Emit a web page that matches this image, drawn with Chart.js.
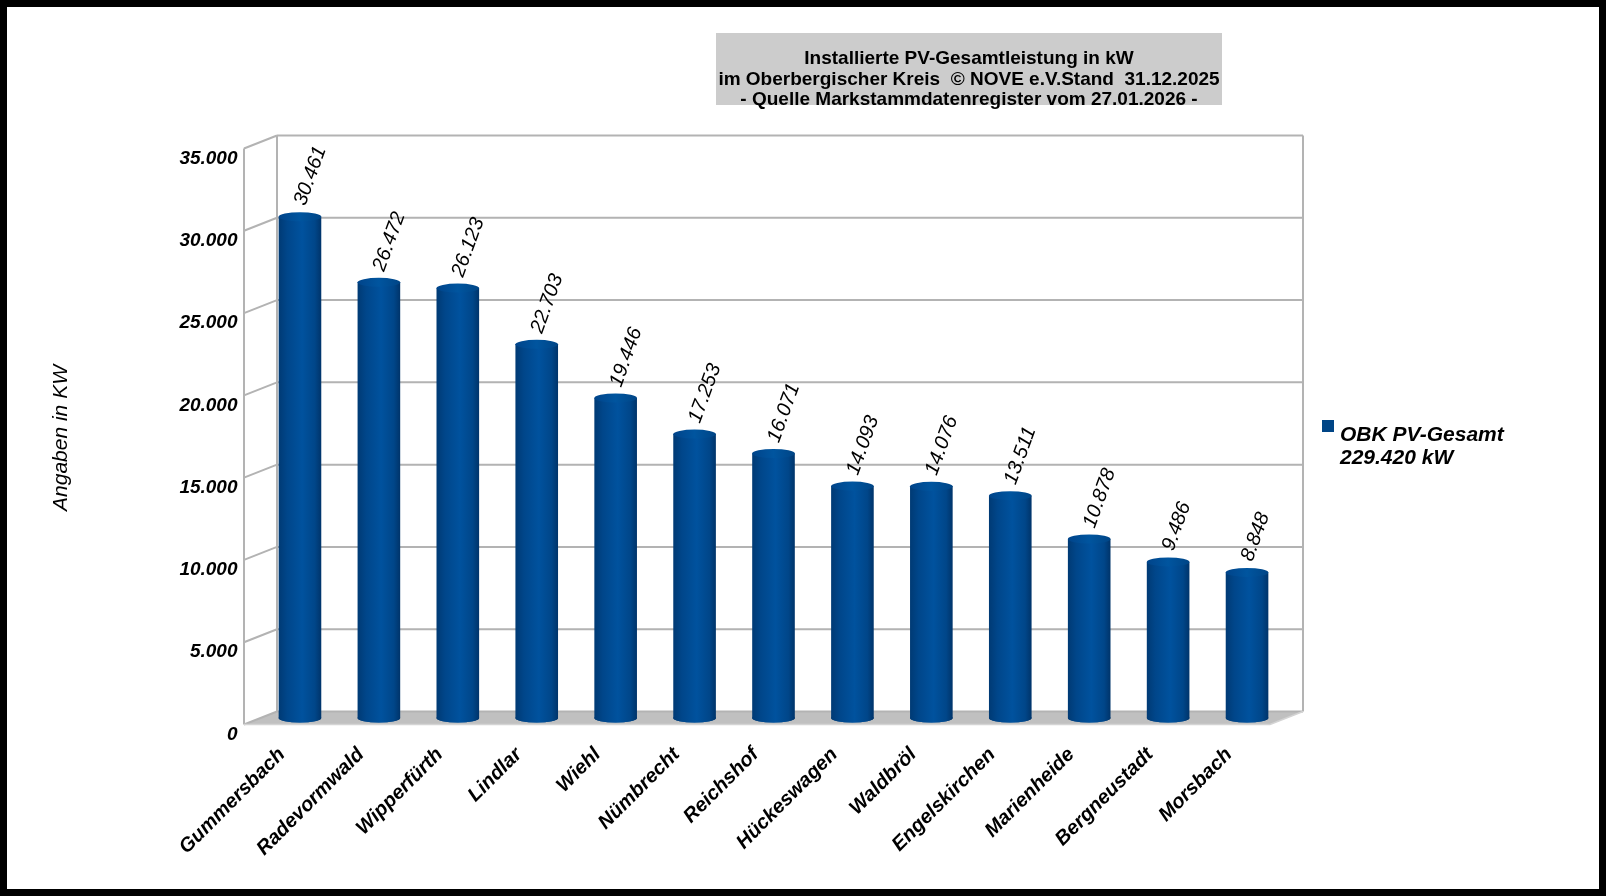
<!DOCTYPE html>
<html>
<head>
<meta charset="utf-8">
<script src="https://cdn.jsdelivr.net/npm/chart.js@4.4.1/dist/chart.umd.min.js"></script>
<style>
    body { margin: 0; background: #fff; }
    #wrap { position: relative; width: 1606px; height: 896px; }
    #title {
        position: absolute; left: 716px; top: 33px; width: 506px; height: 72px;
        background: #cccccc; color: #000; text-align: center; white-space: pre;
        font: bold 19px "Liberation Sans", Arial, sans-serif; line-height: 20.5px;
        padding-top: 15px; box-sizing: border-box;
    }
    #legend {
        position: absolute; left: 1322px; top: 420px;
        font: italic bold 21px "Liberation Sans", Arial, sans-serif; line-height: 23px; color: #000;
    }
    #legend .box { position: absolute; left: 0; top: 0; width: 12px; height: 12px; background: #004586; }
    #legend .txt { position: absolute; left: 18px; top: 2px; white-space: pre; }
</style>
</head>
<body>
<div id="wrap">
    <canvas id="chart" width="1606" height="896"></canvas>
    <div id="title">Installierte PV-Gesamtleistung in kW
im Oberbergischer Kreis  © NOVE e.V.Stand  31.12.2025
- Quelle Markstammdatenregister vom 27.01.2026 -</div>
    <div id="legend"><div class="box"></div><div class="txt">OBK PV-Gesamt
229.420 kW</div></div>
</div>
<script>
// ----------------------------------------------------
// DATA
// ----------------------------------------------------
const towns = [
    "Gummersbach", "Radevormwald", "Wipperfürth", "Lindlar", "Wiehl", "Nümbrecht",
    "Reichshof", "Hückeswagen", "Waldbröl", "Engelskirchen", "Marienheide",
    "Bergneustadt", "Morsbach"
];
const pvValues = [30461, 26472, 26123, 22703, 19446, 17253, 16071, 14093, 14076, 13511, 10878, 9486, 8848];
const yMin = 0;
const yMax = 35000;
const yStep = 5000;
const yTitle = "Angaben in KW";

// half of the 3D depth offset (back wall is +DX/-DY, front is -DX/+DY)
const DX = 16.5;
const DY = 6.5;
const BAR_PCT = 0.54;

function fmt(n) {
    return String(n).replace(/\B(?=(\d{3})+(?!\d))/g, ".");
}

function cylinderGradient(ctx, cx, half) {
    const g = ctx.createLinearGradient(cx - half, 0, cx + half, 0);
    g.addColorStop(0, "#003a74");
    g.addColorStop(0.2, "#00468a");
    g.addColorStop(0.55, "#00529e");
    g.addColorStop(0.85, "#004689");
    g.addColorStop(1, "#00346a");
    return g;
}

// ----------------------------------------------------
// PLUGINS
// ----------------------------------------------------
const roomPlugin = {
    id: "room",
    beforeDatasetsDraw(chart) {
        const { ctx, chartArea: ca, scales } = chart;
        const y = scales.y;
        const y0 = y.getPixelForValue(0);
        const yTop = y.getPixelForValue(yMax);
        ctx.save();

        // floor
        ctx.fillStyle = "#c0c0c0";
        ctx.beginPath();
        ctx.moveTo(ca.left + DX, y0 - DY);
        ctx.lineTo(ca.right + DX, y0 - DY);
        ctx.lineTo(ca.right - DX, y0 + DY);
        ctx.lineTo(ca.left - DX, y0 + DY);
        ctx.closePath();
        ctx.fill();

        ctx.strokeStyle = "#b3b3b3";
        ctx.lineWidth = 2;
        ctx.beginPath();
        y.ticks.forEach(t => {
            const py = y.getPixelForValue(t.value) - DY;
            ctx.moveTo(ca.left + DX, py);
            ctx.lineTo(ca.right + DX, py);
            ctx.moveTo(ca.left - DX, py + 2 * DY);
            ctx.lineTo(ca.left + DX, py);
        });
        // back wall verticals
        ctx.moveTo(ca.left + DX, yTop - DY);
        ctx.lineTo(ca.left + DX, y0 - DY);
        ctx.moveTo(ca.right + DX, yTop - DY);
        ctx.lineTo(ca.right + DX, y0 - DY);
        // front left edge
        ctx.moveTo(ca.left - DX, yTop + DY);
        ctx.lineTo(ca.left - DX, y0 + DY);
        ctx.stroke();

        ctx.strokeStyle = "#d4d4d4";
        ctx.lineWidth = 1.5;
        ctx.beginPath();
        ctx.moveTo(ca.left - DX, y0 + DY);
        ctx.lineTo(ca.right - DX, y0 + DY);
        ctx.lineTo(ca.right + DX, y0 - DY);
        ctx.stroke();

        // bottom caps of the cylinders
        const meta = chart.getDatasetMeta(0);
        meta.data.forEach(bar => {
            const p = bar.getProps(["x", "base", "width"], true);
            ctx.fillStyle = cylinderGradient(ctx, p.x, p.width / 2);
            ctx.beginPath();
            ctx.ellipse(p.x, p.base, p.width / 2, 4.5, 0, 0, Math.PI * 2);
            ctx.fill();
        });
        ctx.restore();
    },
    afterDatasetsDraw(chart) {
        const { ctx } = chart;
        const meta = chart.getDatasetMeta(0);
        ctx.save();
        meta.data.forEach((bar, i) => {
            const p = bar.getProps(["x", "y", "base", "width"], true);
            // bottom half ellipse over the rect end
            ctx.fillStyle = cylinderGradient(ctx, p.x, p.width / 2);
            ctx.beginPath();
            ctx.ellipse(p.x, p.base, p.width / 2, 4.5, 0, 0, Math.PI);
            ctx.fill();
            // top cap
            const g = ctx.createLinearGradient(p.x - p.width / 2, 0, p.x + p.width / 2, 0);
            g.addColorStop(0, "#00448a");
            g.addColorStop(0.5, "#00559f");
            g.addColorStop(1, "#004586");
            ctx.fillStyle = g;
            ctx.beginPath();
            ctx.ellipse(p.x, p.y, p.width / 2, 4.5, 0, 0, Math.PI * 2);
            ctx.fill();

            // value label
            ctx.save();
            ctx.translate(p.x, p.y - 12);
            ctx.rotate(-70 * Math.PI / 180);
            ctx.font = "italic 20px 'Liberation Sans', Arial, sans-serif";
            ctx.fillStyle = "#000";
            ctx.textAlign = "left";
            ctx.textBaseline = "middle";
            ctx.fillText(fmt(pvValues[i]), 0, 0);
            ctx.restore();
        });
        ctx.restore();
    },
    afterDraw(chart) {
        const { ctx, width, height } = chart;
        ctx.save();
        // y axis title
        ctx.translate(61, 438);
        ctx.rotate(-Math.PI / 2);
        ctx.font = "italic 21px 'Liberation Sans', Arial, sans-serif";
        ctx.fillStyle = "#000";
        ctx.textAlign = "center";
        ctx.textBaseline = "middle";
        ctx.fillText(yTitle, 0, 0);
        ctx.restore();

        ctx.save();
        ctx.strokeStyle = "#000";
        ctx.lineWidth = 14;
        ctx.strokeRect(0, 0, width, height);
        ctx.restore();
    }
};

// ----------------------------------------------------
// CHART
// ----------------------------------------------------
Chart.defaults.font.family = "'Liberation Sans', Arial, sans-serif";
Chart.defaults.color = "#000";

new Chart(document.getElementById("chart"), {
    type: "bar",
    data: {
        labels: towns,
        datasets: [{
            label: "OBK PV-Gesamt",
            data: pvValues,
            categoryPercentage: 1,
            barPercentage: BAR_PCT,
            backgroundColor(c) {
                const chart = c.chart;
                const xs = chart.scales.x;
                if (!chart.chartArea || !xs) return "#004586";
                const cx = xs.getPixelForValue(c.dataIndex);
                const half = (chart.chartArea.width / towns.length) * BAR_PCT / 2;
                return cylinderGradient(chart.ctx, cx, half);
            },
            borderWidth: 0
        }]
    },
    options: {
        responsive: false,
        animation: false,
        layout: { padding: { left: 45, right: 319.5, top: 142, bottom: 0 } },
        plugins: {
            legend: { display: false },
            tooltip: { enabled: false }
        },
        scales: {
            x: {
                grid: { display: false },
                border: { display: false },
                afterFit: s => { s.height = 178; },
                ticks: {
                    autoSkip: false,
                    minRotation: 45,
                    maxRotation: 45,
                    padding: 17,
                    labelOffset: -18,
                    color: "#000",
                    font: { size: 20, style: "italic", weight: "bold" }
                }
            },
            y: {
                min: yMin,
                max: yMax,
                grid: { display: false },
                border: { display: false },
                afterFit: s => { s.width = 215.5; },
                ticks: {
                    stepSize: yStep,
                    padding: 15,
                    labelOffset: 16.5,
                    color: "#000",
                    font: { size: 19, style: "italic", weight: "bold" },
                    callback: v => fmt(v)
                },
                title: { display: false }
            }
        }
    },
    plugins: [roomPlugin]
});
</script>
</body>
</html>
